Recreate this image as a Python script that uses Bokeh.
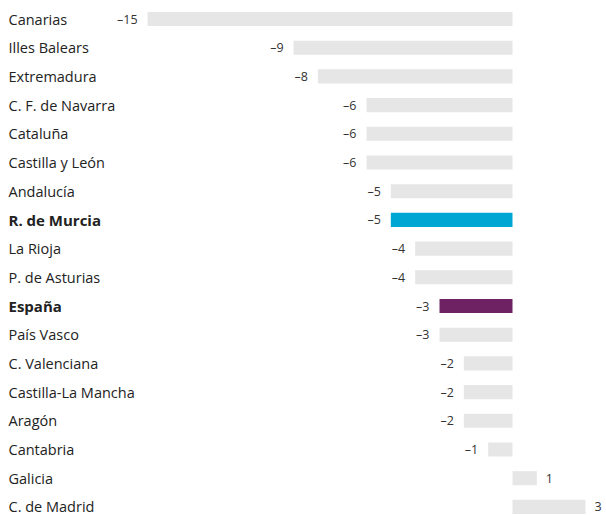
from bokeh.plotting import figure
from bokeh.models import ColumnDataSource, Range1d
from bokeh.core.properties import value
from bokeh.embed import file_html
from bokeh.resources import INLINE

regions = ["Canarias", "Illes Balears", "Extremadura", "C. F. de Navarra", "Cataluña",
           "Castilla y León", "Andalucía", "R. de Murcia", "La Rioja", "P. de Asturias",
           "España", "País Vasco", "C. Valenciana", "Castilla-La Mancha", "Aragón",
           "Cantabria", "Galicia", "C. de Madrid"]
values = [-15, -9, -8, -6, -6, -6, -5, -5, -4, -4, -3, -3, -2, -2, -2, -1, 1, 3]
highlight = {"R. de Murcia": "#00a6d3", "España": "#6e2163"}

GREY = "#e6e6e6"
colors = [highlight.get(r, GREY) for r in regions]
weights = ["bold" if r in highlight else "normal" for r in regions]
sizes = ["15px" if r in highlight else "14.5px" for r in regions]
idx = list(range(len(regions)))
labels = [("\u2013" + str(abs(v))) if v < 0 else str(v) for v in values]
lab_x = [min(v, 0) for v in values]
lab_x2 = [max(v, 0) for v in values]
neg_labels = [l if v < 0 else "" for l, v in zip(labels, values)]
pos_labels = [l if v > 0 else "" for l, v in zip(labels, values)]

W, H = 606, 515
pxu = 24.33
x0 = -512 / pxu
x1 = x0 + W / pxu
rowh = 28.7
y_top = -18.5 / rowh
y_bot = y_top + H / rowh

src = ColumnDataSource(dict(y=idx, v=values, zero=[0] * len(values), c=colors,
                            name=regions, fw=weights, fs=sizes, lx=lab_x, lx2=lab_x2,
                            nl=neg_labels, pl=pos_labels, x0=[x0] * len(values)))

p = figure(width=W, height=H, output_backend="svg", toolbar_location=None,
           x_range=Range1d(x0, x1), y_range=Range1d(y_bot, y_top),
           min_border=0, min_border_left=0, min_border_right=0,
           min_border_top=0, min_border_bottom=0)
p.axis.visible = False
p.grid.visible = False
p.outline_line_color = None
p.background_fill_color = "white"

p.hbar(y="y", left="zero", right="v", height=0.49, fill_color="c", line_color=None, source=src)

p.text(x="x0", y="y", text="name", x_offset=8, text_baseline="middle", text_align="left",
       text_font=value("Open Sans"), text_font_size="fs", text_color="#222222",
       text_font_style="fw", source=src)
p.text(x="lx", y="y", text="nl", x_offset=-10, text_baseline="middle", text_align="right",
       text_font=value("Open Sans"), text_font_size="12.5px", text_color="#333333", source=src)
p.text(x="lx2", y="y", text="pl", x_offset=9, text_baseline="middle", text_align="left",
       text_font=value("Open Sans"), text_font_size="12.5px", text_color="#333333", source=src)

open("out.html", "w").write(file_html(p, INLINE))
